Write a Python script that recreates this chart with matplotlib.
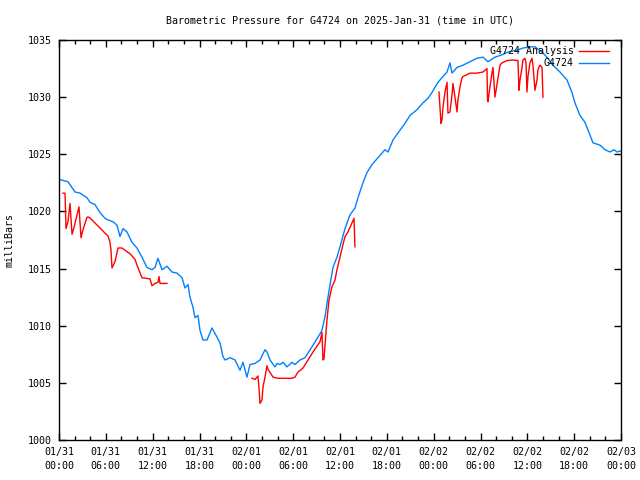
import matplotlib
matplotlib.use('Agg')
from matplotlib import pyplot as plt
from matplotlib.ticker import MultipleLocator
import numpy as np

# hours since 2025-01-31 00:00 UTC
station_hours = [0.0, 1.15, 2.05, 2.69, 3.59, 3.97, 4.61, 5.25, 5.89, 6.28, 6.92, 7.43, 7.81, 8.20, 8.71,
                 9.35, 9.99, 10.63, 11.27, 11.91, 12.30, 12.68, 13.20, 13.84, 14.48, 15.12, 15.76, 16.14,
                 16.53, 16.78, 17.17, 17.42, 17.81, 18.06, 18.45, 18.96, 19.60, 20.24, 20.63, 21.01, 21.27,
                 21.91, 22.55, 23.19, 23.57, 24.08, 24.47, 25.11, 25.75, 26.39, 26.65, 27.03, 27.67, 27.93,
                 28.31, 28.70, 29.21, 29.85, 30.23, 30.87, 31.51, 31.90, 32.54, 33.18, 33.69, 34.08, 34.46,
                 35.10, 35.61, 36.00, 36.64, 37.28, 37.92, 38.30, 38.94, 39.46, 40.10, 41.12, 41.76, 42.15,
                 42.79, 43.68, 44.32, 44.97, 45.86, 46.63, 47.27, 47.78, 48.55, 49.71, 50.09, 50.35, 50.99,
                 51.76, 52.65, 53.55, 54.32, 54.96, 55.85, 56.75, 57.52, 58.67, 59.44, 60.34, 60.98, 61.88,
                 62.64, 63.28, 64.18, 65.08, 65.72, 66.10, 66.74, 67.38, 68.02, 68.41, 69.31, 69.95, 70.59,
                 71.10, 71.48, 72.0]
station_mb = [1022.8, 1022.6, 1021.7, 1021.6, 1021.2, 1020.8, 1020.6, 1019.9, 1019.4, 1019.25, 1019.1, 1018.8,
              1017.8, 1018.5, 1018.2, 1017.3, 1016.8, 1016.0, 1015.1, 1014.9, 1015.1, 1015.9, 1014.9, 1015.2,
              1014.7, 1014.6, 1014.2, 1013.3, 1013.6, 1012.5, 1011.6, 1010.7, 1010.9, 1009.6, 1008.75, 1008.75,
              1009.8, 1009.0, 1008.5, 1007.3, 1007.0, 1007.2, 1007.0, 1006.1, 1006.8, 1005.5, 1006.6, 1006.7,
              1007.0, 1007.9, 1007.7, 1007.0, 1006.4, 1006.7, 1006.6, 1006.8, 1006.4, 1006.8, 1006.6, 1007.0,
              1007.2, 1007.6, 1008.3, 1009.0, 1009.6, 1010.8, 1012.5, 1015.1, 1016.0, 1016.9, 1018.5, 1019.7,
              1020.3, 1021.2, 1022.5, 1023.4, 1024.1, 1024.9, 1025.4, 1025.2, 1026.25, 1027.1, 1027.7, 1028.4,
              1028.9, 1029.5, 1029.9, 1030.4, 1031.3, 1032.2, 1033.0, 1032.1, 1032.6, 1032.8, 1033.1, 1033.4,
              1033.5, 1033.1, 1033.5, 1033.7, 1033.95, 1034.1, 1034.3, 1034.4, 1034.4, 1033.95, 1033.4, 1032.8,
              1032.2, 1031.5, 1030.4, 1029.5, 1028.4, 1027.8, 1026.7, 1026.0, 1025.8, 1025.4, 1025.2, 1025.4,
              1025.2, 1025.3]

# analysis, three pieces separated by nan gaps
analysis_hours = [0.51, 0.77, 0.90, 1.15, 1.41, 1.67, 1.92, 2.56, 2.82, 3.07, 3.59, 3.84, 4.23, 5.25, 5.89,
                  6.28, 6.53, 6.66, 6.79, 7.17, 7.56, 8.07, 8.46, 9.10, 9.74, 9.99, 10.63, 11.66, 11.91, 12.30,
                  12.68, 12.81, 12.94, 13.84,
                  np.nan,
                  24.72, 25.11, 25.49, 25.62, 25.75, 26.00, 26.13, 26.39, 26.65, 26.77, 27.42, 28.06, 29.85,
                  30.23, 30.62, 31.26, 31.90, 32.54, 33.44, 33.69, 33.82, 33.95, 34.08, 34.33, 34.59, 34.97,
                  35.36, 35.61, 36.00, 36.38, 36.64, 37.02, 37.54, 37.79, 37.92,
                  np.nan,
                  48.68, 48.94, 49.07, 49.19, 49.45, 49.71, 49.83, 50.09, 50.35, 50.47, 50.73, 50.99, 51.11,
                  51.37, 51.63, 51.76, 52.65, 53.55, 54.32, 54.83, 54.90, 54.96, 55.21, 55.47, 55.60, 55.85,
                  56.11, 56.50, 56.75, 57.39, 58.16, 58.80, 58.93, 59.06, 59.31, 59.44, 59.70, 59.83, 59.95,
                  60.08, 60.34, 60.60, 60.72, 60.98, 61.24, 61.36, 61.62, 61.88, 62.00]
analysis_mb = [1021.6, 1021.6, 1018.5, 1019.1, 1020.7, 1018.0, 1018.6, 1020.4, 1017.7, 1018.4, 1019.5, 1019.5,
               1019.25, 1018.55, 1018.1, 1017.85, 1017.3, 1016.6, 1015.05, 1015.6, 1016.8, 1016.8, 1016.6,
               1016.3, 1015.8, 1015.3, 1014.2, 1014.1, 1013.5, 1013.7, 1013.8, 1014.3, 1013.7, 1013.7,
               np.nan,
               1005.4, 1005.3, 1005.6, 1004.55, 1003.2, 1003.5, 1004.6, 1005.5, 1006.5, 1006.2, 1005.5, 1005.4,
               1005.4, 1005.5, 1005.95, 1006.3, 1007.0, 1007.7, 1008.6, 1009.4, 1007.0, 1007.1, 1008.3, 1010.5,
               1012.25, 1013.4, 1014.0, 1014.9, 1016.0, 1017.1, 1017.8, 1018.2, 1019.0, 1019.4, 1016.9,
               np.nan,
               1030.45, 1027.7, 1028.0, 1029.1, 1030.45, 1031.3, 1028.6, 1028.7, 1030.2, 1031.2, 1030.0, 1028.7,
               1029.75, 1030.9, 1031.7, 1031.8, 1032.1, 1032.1, 1032.2, 1032.5, 1029.75, 1029.6, 1030.9, 1032.1,
               1032.6, 1030.0, 1031.1, 1032.8, 1033.0, 1033.2, 1033.25, 1033.2, 1030.6, 1031.5, 1032.55,
               1033.25, 1033.4, 1033.0, 1030.45, 1031.8, 1033.0, 1033.4, 1032.8, 1030.6, 1031.5, 1032.4,
               1032.8, 1032.6, 1030.0]

xtick_labels = ['01/31\n00:00', '01/31\n06:00', '01/31\n12:00', '01/31\n18:00',
                '02/01\n00:00', '02/01\n06:00', '02/01\n12:00', '02/01\n18:00',
                '02/02\n00:00', '02/02\n06:00', '02/02\n12:00', '02/02\n18:00',
                '02/03\n00:00']

plt.rcParams['font.family'] = ['DejaVu Sans Mono']
plt.rcParams['font.size'] = 7.2

fig = plt.figure(figsize=(6.4, 4.8), dpi=100)
ax = fig.add_axes([59 / 640, 40 / 480, 562 / 640, 400 / 480])

ax.plot(analysis_hours, analysis_mb, color='#ff0000', linewidth=1.0, label='G4724 Analysis')
ax.plot(station_hours, station_mb, color='#0080ff', linewidth=1.0, label='G4724')

ax.set_xlim(0, 72)
ax.set_ylim(1000, 1035)
ax.set_xticks(range(0, 73, 6))
ax.set_xticklabels(xtick_labels, linespacing=1.45)
ax.xaxis.set_minor_locator(MultipleLocator(2))
ax.set_yticks(range(1000, 1036, 5))
ax.tick_params(which='both', direction='in', top=True, right=True, width=1, color='black')
ax.tick_params(which='major', length=5, pad=5)
ax.tick_params(which='minor', length=3)
for s in ax.spines.values():
    s.set_linewidth(1)

# gnuplot style key: text right-justified, sample on the right
leg = ax.legend(loc='upper right', frameon=False, markerfirst=False, borderpad=0.0,
                handlelength=3.0, handletextpad=0.5, labelspacing=0.2, borderaxespad=0.0)
leg.set_bbox_to_anchor((609 / 640, 1 - 46 / 480), transform=fig.transFigure)

ax.set_title('Barometric Pressure for G4724 on 2025-Jan-31 (time in UTC)', fontsize=7.2, pad=12)
fig.text(10 / 640, 0.5, 'milliBars', rotation=90, ha='center', va='center')

plt.savefig('out.png', dpi=100)
plt.close()
